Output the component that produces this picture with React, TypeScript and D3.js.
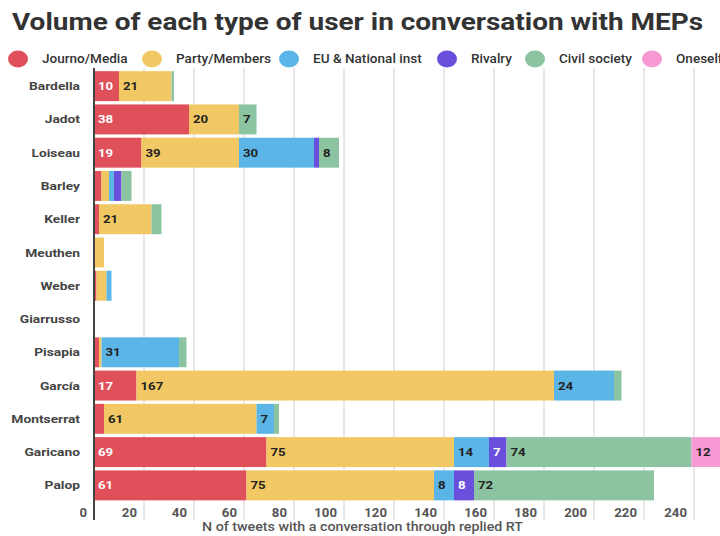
import React from "react";
import * as d3 from "d3";

const names = ["Bardella","Jadot","Loiseau","Barley","Keller","Meuthen","Weber","Giarrusso","Pisapia","García","Montserrat","Garicano","Palop"];
const seriesNames = ["Journo/Media","Party/Members","EU & National inst","Rivalry","Civil society","Oneself"];
const colors = ["#e0505a","#f1c863","#5bb5e6","#6a4fdc","#8cc4a1","#f799d2"];
const labelColors = ["#ffffff","#222222","#222222","#ffffff","#222222","#222222"];

const journo = [10,38,19,3,2,0,1,0,2,17,4,69,61];
const party = [21,20,39,3,21,4,4,0,1,167,61,75,75];
const euInst = [0,0,30,2,0,0,2,0,31,24,7,14,8];
const rivalry = [0,0,2,3,0,0,0,0,0,0,0,7,8];
const civil = [1,7,8,4,4,0,0,0,3,3,2,74,72];
const oneself = [0,0,0,0,0,0,0,0,0,0,0,12,0];
const xTicks = [0,20,40,60,80,100,120,140,160,180,200,220,240];

const series = [journo, party, euInst, rivalry, civil, oneself];
const legendX = [18, 152, 289, 447, 535, 652];

export default function App() {
  const W = 720, H = 536;
  const x = d3.scaleLinear().domain([0, 260]).range([94, 744]);
  const y = d3.scaleBand().domain(names).range([69.5, 502]).paddingInner(0.1).paddingOuter(0.05);
  const table = names.map((n, i) => {
    const row: any = { name: n };
    seriesNames.forEach((s, j) => (row[s] = series[j][i]));
    return row;
  });
  const stacked = d3.stack().keys(seriesNames)(table);

  return (
    <svg width={W} height={H} style={{ position: "absolute", left: 0, top: 0, background: "#fff" }} fontFamily="Roboto, 'Noto Sans', sans-serif">
      <text x={12} y={30} fontSize={23} fontWeight={700} fill="#333" textLength={691} lengthAdjust="spacingAndGlyphs">
        Volume of each type of user in conversation with MEPs
      </text>
      {seriesNames.map((s, j) => (
        <g key={s}>
          <ellipse cx={legendX[j]} cy={59} rx={10} ry={8.5} fill={colors[j]} />
          <text transform={`translate(${legendX[j] + 24},59) scale(1.13,1)`} dy="0.35em" fontSize={12} fontWeight={500} fill="#333">{s}</text>
        </g>
      ))}
      {xTicks.map((t) => (
        <g key={t}>
          {t > 0 && <line x1={x(t)} x2={x(t)} y1={68} y2={520} stroke="#e0e0e0" strokeWidth={1.5} />}
          <text transform={`translate(${x(t) - 7},513) scale(1.1,1)`} dy="0.35em" textAnchor="end" fontSize={12} fontWeight={700} fill="#555">{t}</text>
        </g>
      ))}
      {stacked.map((layer, j) => (
        <g key={j}>
          {layer.map((d, i) => {
            const w = x(d[1]) - x(d[0]);
            if (w <= 0) return null;
            return (
              <rect key={i} x={x(d[0])} y={y(names[i])} width={w} height={y.bandwidth()} fill={colors[j]} />
            );
          })}
        </g>
      ))}
      {stacked.map((layer, j) => (
        <g key={"l" + j}>
          {layer.map((d, i) => {
            const v = d[1] - d[0];
            if (v < 7) return null;
            const cy = (y(names[i]) as number) + y.bandwidth() / 2;
            return (
              <text key={i} transform={`translate(${x(d[0]) + 4},${cy}) scale(1.15,1)`} dy="0.35em" fontSize={11.5} fontWeight={700} fill={labelColors[j]}>{v}</text>
            );
          })}
        </g>
      ))}
      <line x1={x(0)} x2={x(0)} y1={68} y2={520} stroke="#444" strokeWidth={2} />
      {names.map((n) => {
        const cy = (y(n) as number) + y.bandwidth() / 2;
        return (
          <text key={n} transform={`translate(80,${cy}) scale(1.2,1)`} dy="0.35em" textAnchor="end" fontSize={11.5} fontWeight={700} fill="#444">{n}</text>
        );
      })}
      <text x={202} y={531} fontSize={12} fontWeight={500} fill="#555" textLength={321} lengthAdjust="spacingAndGlyphs">N of tweets with a conversation through replied RT</text>
    </svg>
  );
}
